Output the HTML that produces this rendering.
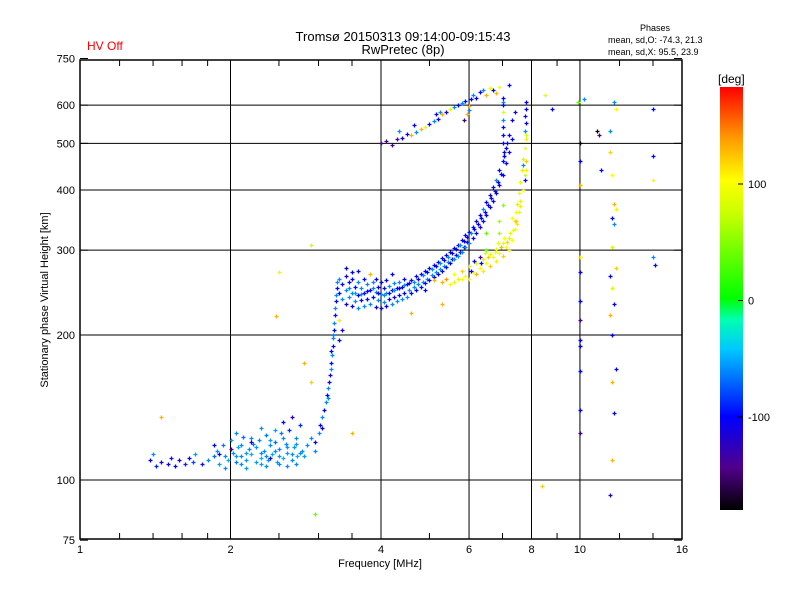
<!DOCTYPE html>
<html><head><meta charset="utf-8"><style>
body{margin:0;background:#fff;}
svg{display:block;font-family:"Liberation Sans",sans-serif;}
</style></head><body>
<svg id="chart" width="800" height="600" xmlns="http://www.w3.org/2000/svg">
<defs>
<linearGradient id="cbg" x1="0" y1="1" x2="0" y2="0">
<stop offset="0" stop-color="#000000"/><stop offset="0.1" stop-color="#50008a"/><stop offset="0.22" stop-color="#0000ff"/><stop offset="0.38" stop-color="#00c8ff"/><stop offset="0.45" stop-color="#00ffb0"/><stop offset="0.5" stop-color="#00ff00"/><stop offset="0.7" stop-color="#c8ff00"/><stop offset="0.78" stop-color="#ffff00"/><stop offset="0.88" stop-color="#ff9900"/><stop offset="1" stop-color="#ff0000"/>
</linearGradient>
</defs>
<text x="403" y="41" text-anchor="middle" font-size="13">Tromsø 20150313 09:14:00-09:15:43</text>
<text x="403" y="54" text-anchor="middle" font-size="13">RwPretec (8p)</text>
<text x="87" y="50" font-size="12" fill="#ff0000">HV Off</text>
<text x="655" y="31" text-anchor="middle" font-size="9">Phases</text>
<text x="608" y="43" font-size="9">mean, sd,O: -74.3, 21.3</text>
<text x="608" y="55" font-size="9">mean, sd,X:  95.5, 23.9</text>
<g id="grid"></g>
<g id="marks"></g>
<rect x="80" y="60" width="602" height="479" fill="none" stroke="#000" stroke-width="1.5"/>
<g id="axes"></g>
<text x="380" y="567" text-anchor="middle" font-size="11">Frequency [MHz]</text>
<text transform="translate(48,300) rotate(-90)" text-anchor="middle" font-size="11">Stationary phase Virtual Height [km]</text>
<rect x="720" y="87" width="23" height="423" fill="url(#cbg)"/>
<text x="718" y="83" font-size="12">[deg]</text>
<g id="cbticks"></g>
</svg>
<script>
const freq=[1.38,1.42,1.45,1.5,1.52,1.55,1.58,1.62,1.65,1.68,1.75,1.8,1.85,1.88,1.9,1.93,1.95,1.98,2.0,2.02,2.05,2.07,2.1,2.12,2.15,2.18,2.2,2.22,2.25,2.28,2.3,2.33,2.35,2.38,2.4,2.42,2.45,2.48,2.5,2.52,2.55,2.58,2.6,2.62,2.65,2.68,2.7,2.72,2.75,2.78,1.45,
1.4,1.7,1.95,2.15,2.35,2.6,2.05,2.3,2.45,2.55,2.65,2.2,2.4,2.7,
2.85,2.9,2.95,3.0,3.02,3.05,3.08,3.1,3.12,3.13,3.15,3.16,3.17,3.18,3.19,3.2,3.2,3.22,3.22,3.23,3.24,3.25,3.25,3.26,3.27,2.95,3.05,3.14,3.18,3.2,
2.9,2.8,2.47,2.5,2.9,3.5,2.95,
3.3,3.3,3.35,3.35,3.4,3.4,3.4,3.45,3.45,3.5,3.5,3.5,3.55,3.55,3.6,3.6,3.6,3.65,3.65,3.7,3.7,3.7,3.75,3.75,3.8,3.8,3.85,3.85,3.9,3.9,3.9,3.95,3.95,4.0,4.0,4.0,4.05,4.05,4.1,4.1,4.1,4.15,4.15,4.2,4.2,4.25,4.25,4.3,4.3,4.35,4.35,4.4,4.4,4.45,4.45,4.5,4.5,4.55,4.6,4.6,4.65,4.7,4.7,4.75,4.8,4.8,4.85,4.9,4.9,4.95,5.0,5.0,5.05,5.1,5.1,5.15,5.2,5.2,5.25,5.3,5.3,5.35,5.4,5.4,5.45,5.5,5.5,5.55,5.6,5.6,5.65,5.7,5.7,5.75,5.8,5.8,5.85,5.9,5.9,5.95,6.0,6.0,
6.1,6.1,6.2,6.2,6.3,6.3,6.4,6.4,6.5,6.5,6.6,6.6,6.7,6.7,6.8,6.8,6.9,6.9,7.0,7.0,7.1,7.1,7.2,7.2,7.3,7.3,7.4,
3.4,3.5,3.6,3.8,4.2,3.3,3.35,3.3,4.9,5.3,4.6,5.1,
5.3,5.4,5.5,5.6,5.7,5.8,5.9,6.0,6.0,6.1,6.2,6.2,6.3,6.4,6.4,6.5,6.6,6.6,6.7,6.8,6.8,6.9,7.0,7.0,7.1,7.2,7.2,7.3,7.35,7.4,7.45,7.5,7.55,7.6,7.65,7.7,7.75,7.8,7.5,7.3,7.6,6.9,6.5,
6.5,6.9,7.0,6.3,
4.0,4.1,4.2,4.3,4.35,4.4,4.5,4.6,4.65,4.7,4.8,4.9,5.0,5.1,5.15,5.2,5.25,5.3,5.4,5.5,5.6,5.7,5.8,5.9,6.0,6.05,6.1,6.2,6.3,6.4,6.5,6.6,6.7,6.8,6.9,7.0,7.2,6.0,5.95,5.85,
7.0,7.0,7.0,7.0,7.0,7.0,7.0,7.05,7.05,
7.8,7.8,7.75,7.8,7.75,7.8,7.7,7.8,7.75,
8.5,8.8,8.4,9.9,10.2,10,10,10,10,10,10,10,10,10,10,10,10,10.8,10.9,11,11.7,11.8,11.5,11.5,11.6,11.7,11.6,11.7,11.8,11.6,11.8,11.5,11.6,11.7,11.5,11.6,11.8,11.6,11.7,11.6,11.5,14,14,14,14,14.1,
1.85,1.9,2.0,2.05,2.1,2.15,2.2,2.25,2.3,2.35,2.4,2.45,2.5,2.55,2.6,2.65,2.7,2.75,2.8,2.1,2.3,2.5,
3.45,3.55,3.65,3.75,3.85,3.95,4.05,4.15,4.25,4.35,4.45,4.55,4.65,4.75,4.85,4.95,5.05,5.15,5.25,5.35,5.45,5.55,5.65,5.75,5.85,5.95,6.05,6.15,6.25,6.35,6.45,6.55,6.65,6.75,6.85,6.95,7.05,7.15,
6.05,6.15,6.35,6.45,6.55,6.75,6.85,6.95,7.05,7.15,7.25,7.4,7.45,7.55,7.6,7.7,7.75,7.8,5.6,5.8];
const height=[110,107,109,108,111,107,110,108,111,109,108,110,112,115,108,118,112,110,121,114,109,117,112,123,110,116,113,119,109,121,111,115,124,110,118,113,120,109,116,125,111,119,114,127,110,117,122,112,130,115,135,
113,113,106,106,107,107,125,128,127,132,135,120,111,108,
118,122,120,125,130,135,140,145,150,155,160,165,170,175,182,190,197,205,212,220,228,235,242,250,258,115,128,148,185,200,
160,175,219,270,308,125,85,
245,262,238,255,232,248,265,240,258,230,245,262,235,252,228,242,258,236,250,230,245,262,238,255,232,248,240,258,229,246,262,236,252,228,243,258,234,250,230,245,260,237,253,232,248,240,256,235,250,242,258,238,252,245,262,240,255,248,244,260,252,248,265,255,252,268,258,256,272,262,260,276,266,264,280,270,268,284,274,272,289,278,277,293,283,282,298,288,287,303,293,292,308,298,298,315,305,304,322,312,310,328,
318,335,325,345,335,355,345,365,355,378,368,390,380,405,395,420,410,440,430,460,455,490,480,520,510,560,580,
275,270,272,268,268,215,205,195,248,232,222,260,
258,262,255,268,262,272,265,278,262,270,282,268,276,288,272,282,295,278,290,302,285,296,310,292,305,318,300,315,330,345,360,375,395,415,440,465,490,520,340,350,380,325,300,
325,345,372,290,
500,505,495,510,530,512,522,520,545,528,535,540,548,555,575,562,580,575,580,588,595,600,605,612,598,618,630,622,640,645,630,650,645,635,655,610,660,585,575,560,
620,600,580,560,540,520,500,480,470,
610,590,570,550,530,510,450,440,420,
630,590,97,610,618,500,460,410,290,270,235,215,195,190,168,140,125,530,520,440,610,590,530,480,430,375,350,340,365,305,275,265,250,232,220,200,170,160,138,110,93,590,470,420,290,280,
118,113,116,112,118,114,122,117,114,112,121,115,112,122,117,113,119,114,112,108,108,108,
250,244,243,247,250,244,242,245,248,250,254,256,258,262,266,270,274,278,282,286,291,296,301,307,313,320,325,332,340,350,360,372,385,398,415,432,470,500,
272,285,282,296,290,297,310,305,318,312,325,332,345,360,370,400,430,460,258,262];
const phase=[-100,-90,-110,-105,-95,-100,-110,-90,-100,-80,-95,-60,-70,-60,-55,-65,-60,-50,-55,-60,-65,-50,-60,-70,-55,-60,-50,-65,-55,-60,-50,-60,-65,-55,-60,-50,-70,-55,-60,-65,-50,-60,-55,-90,-60,-55,-60,-50,-90,-60,130,
-60,-55,-60,-55,-60,-60,-60,-60,-55,-100,-120,-110,-110,-60,
-60,-60,-100,-60,-100,-60,-100,-60,-100,-60,-100,-110,-60,-100,-60,-100,-60,-100,-60,-100,-60,-100,-60,-100,-60,-60,-100,-60,-100,-60,
120,130,130,90,80,130,40,
-100,-60,-60,-100,-100,-60,-110,-60,-100,-100,-60,-100,-60,-100,-60,-100,-60,-100,-60,-60,-100,-100,-100,-60,-60,-100,-100,-60,-100,-60,-100,-60,-100,-100,-60,-100,-60,-100,-100,-60,-100,-100,-60,-60,-100,-100,-60,-60,-100,-100,-60,-60,-100,-100,-100,-60,-100,-60,-100,-100,-60,-100,-100,-60,-100,-100,-60,-100,-100,-60,-100,-100,-60,-100,-100,-60,-100,-100,-60,-100,-100,-60,-100,-100,-60,-100,-100,-100,-60,-100,-100,-60,-100,-100,-60,-100,-100,-60,-100,-100,-60,-100,-100,-100,-100,
-100,-110,-100,-100,-60,-100,-100,-100,-110,-100,-100,-100,-60,-100,-100,-110,-100,-100,-100,-110,-100,-100,-100,-110,-100,-100,-100,
130,-100,110,-110,-100,-100,130,130,130,130,140,100,
100,90,120,100,80,110,100,90,130,100,80,110,100,90,120,100,80,110,100,90,120,100,80,110,100,90,120,100,80,100,90,110,80,100,90,110,100,90,60,40,40,60,50,
-140,-140,-150,-140,
-140,-60,-100,-100,130,-100,-60,130,90,-100,-60,-110,-100,-60,130,-100,90,-60,-100,-60,-100,130,-100,-60,-100,-100,-60,130,90,-100,130,100,-60,-100,-60,130,-150,-100,-100,90,
-60,-100,-100,-100,-100,-60,-100,-100,-110,
-100,-60,90,-60,90,-100,90,-100,120,
40,-60,-180,-100,130,110,-100,-100,-140,-100,-100,-100,-100,-150,-180,-150,-100,-60,100,-60,120,100,130,-100,-60,90,80,120,-100,80,-100,130,-100,-100,130,-100,130,-120,-100,-100,100,-60,-100,-100,-100,-140,
-55,-60,-55,-60,-55,-60,-60,-55,-60,-55,-60,-55,-60,-55,-60,-55,-60,-55,-60,-60,-55,-60,
-100,-60,-100,-60,-100,-60,-100,-60,-100,-60,-100,-60,-100,-60,-100,-60,-100,-60,-100,-100,-60,-100,-100,-60,-100,-100,-100,-100,-110,-100,-100,-110,-100,-100,-110,-100,-100,-110,
90,120,100,90,130,100,120,90,100,120,90,110,100,80,120,90,100,110,120,90];
const xTicksMajor=[1,2,4,6,8,10,16];
const yTicksMajor=[75,100,200,300,400,500,600,750];
const gridX=[2,4,6,8,10];
const gridY=[100,200,300,400,500,600];
const cbTicks=[100,0,-100];

const NS="http://www.w3.org/2000/svg";
const X=f=>80+150.5*Math.log2(f);
const Y=h=>480-145*Math.log2(h/100);
const CB=p=>184-(p-100)*1.165;
const stops=[[0,[0,0,0]],[0.1,[80,0,138]],[0.22,[0,0,255]],[0.38,[0,200,255]],[0.45,[0,255,176]],[0.5,[0,255,0]],[0.7,[200,255,0]],[0.78,[255,255,0]],[0.88,[255,153,0]],[1,[255,0,0]]];
function col(p){let t=(p+180)/363;t=Math.max(0,Math.min(1,t));
 for(let i=1;i<stops.length;i++){if(t<=stops[i][0]){const a=stops[i-1],b=stops[i];const u=(t-a[0])/(b[0]-a[0]);
 return 'rgb('+a[1].map((v,k)=>Math.round(v+(b[1][k]-v)*u)).join(',')+')';}}return 'rgb(255,0,0)';}
function mk(tag,attrs,parent){const e=document.createElementNS(NS,tag);for(const k in attrs)e.setAttribute(k,attrs[k]);parent.appendChild(e);return e;}
const grid=document.getElementById('grid'),axes=document.getElementById('axes'),marks=document.getElementById('marks'),cbt=document.getElementById('cbticks');
gridX.forEach(f=>{const l=mk('line',{x1:X(f),x2:X(f),y1:60,y2:539,stroke:'#000','stroke-width':1},grid);

});
gridY.forEach(h=>{const l=mk('line',{x1:80,x2:682,y1:Y(h),y2:Y(h),stroke:'#000','stroke-width':1},grid);

});
xTicksMajor.forEach(f=>{const t=mk('text',{x:X(f),y:553,'text-anchor':'middle','font-size':11},axes);t.textContent=f;

});
const minor=[1.2,1.4,1.6,1.8,2.5,3,3.5,5,7,9,12,14];
minor.forEach(f=>{mk('line',{x1:X(f),x2:X(f),y1:60,y2:66,stroke:'#000'},axes);mk('line',{x1:X(f),x2:X(f),y1:533,y2:539,stroke:'#000'},axes);});
yTicksMajor.forEach(h=>{const t=mk('text',{x:75,y:Y(h)+4,'text-anchor':'end','font-size':11},axes);t.textContent=h;


mk('line',{x1:80,x2:88,y1:Y(h),y2:Y(h),stroke:'#000'},axes);mk('line',{x1:674,x2:682,y1:Y(h),y2:Y(h),stroke:'#000'},axes);});
for(let i=0;i<freq.length;i++){const x=Math.round(X(freq[i]))+0.5,y=Math.round(Y(height[i]))+0.5;
const p=mk('path',{d:`M${x-2} ${y}H${x+2}M${x} ${y-2}V${y+2}`,stroke:col(phase[i]),'stroke-width':1.3,fill:'none'},marks);

}
cbTicks.forEach(p=>{const t=mk('text',{x:748,y:CB(p)+4,'font-size':11},cbt);t.textContent=p;


mk('line',{x1:738,x2:743,y1:CB(p),y2:CB(p),stroke:'#000'},cbt);});
</script>
</body></html>
